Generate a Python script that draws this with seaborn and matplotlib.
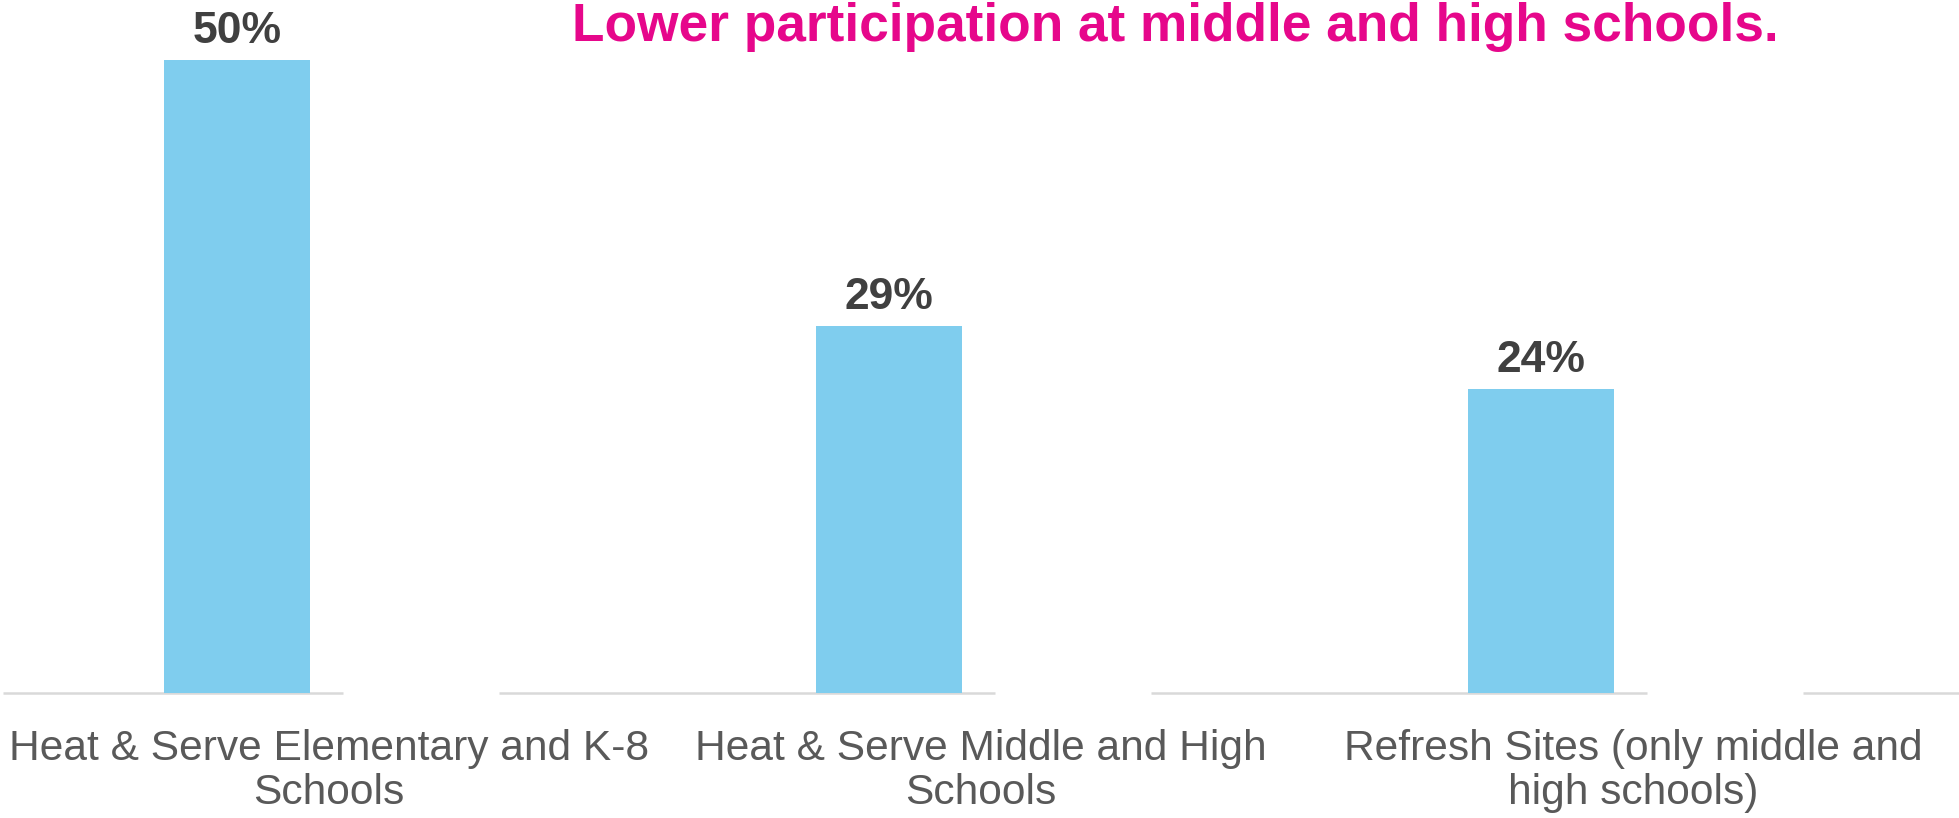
import matplotlib
matplotlib.use("Agg")
import matplotlib.pyplot as plt
import seaborn as sns
import pandas as pd

# Share of students participating, by site type
categories = [
    "Heat & Serve Elementary and K-8\nSchools",
    "Heat & Serve Middle and High\nSchools",
    "Refresh Sites (only middle and\nhigh schools)",
]
participation = [50, 29, 24]
series = ["Participation", "Comparison"]  # second slot is left empty
title = "Lower participation at middle and high schools."

BAR_COLOR = "#7FCDEE"
TITLE_COLOR = "#E6078B"
LABEL_COLOR = "#404040"
TICK_COLOR = "#595959"
AXIS_COLOR = "#D9D9D9"

sns.set_theme(style="white")
plt.rcParams["font.family"] = ["Liberation Sans", "DejaVu Sans"]

df = pd.DataFrame({
    "category": categories,
    "value": participation,
    "series": [series[0]] * len(categories),
})

fig = plt.figure(figsize=(19.59, 8.18), dpi=100)
ax = fig.add_axes([0.0015, 0.1534, 0.9985, 0.8345])

group_width = 0.564
bar_gap = 0.206
sns.barplot(
    data=df, x="category", y="value", hue="series",
    hue_order=series, order=categories,
    palette={series[0]: BAR_COLOR, series[1]: "white"},
    saturation=1,
    width=group_width, gap=bar_gap, dodge=True,
    errorbar=None, legend=False, ax=ax, zorder=3,
    linewidth=0,
)

ax.set_xlim(-0.5, len(categories) - 0.5)
ax.set_ylim(0, 54)

# value labels above the bars
for cont in ax.containers:
    if len(cont.patches):
        ax.bar_label(
            cont, labels=[f"{v:.0f}%" for v in participation],
            padding=6, fontsize=32, fontweight="bold", color=LABEL_COLOR,
            clip_on=False,
        )

# category axis line, interrupted at the empty second slot of each group
slot = group_width / 2
gap_center = slot / 2
gap_half = 0.239 / 2
edges = [-0.5]
for i in range(len(categories)):
    edges += [i + gap_center - gap_half, i + gap_center + gap_half]
edges.append(len(categories) - 0.5)
for x0, x1 in zip(edges[0::2], edges[1::2]):
    ax.hlines(0, x0, x1, color=AXIS_COLOR, lw=1.8, zorder=2, clip_on=False)

for s in ax.spines.values():
    s.set_visible(False)
ax.set_yticks([])
ax.set_xlabel("")
ax.set_ylabel("")
ax.set_xticks(range(len(categories)))
ax.set_xticklabels(categories, fontsize=30.6, color=TICK_COLOR, linespacing=1.15)
ax.tick_params(axis="x", length=0, pad=26)

fig.text(0.5998, 1 - 41 / 818, title, ha="center", va="baseline",
         fontsize=38.3, fontweight="bold", color=TITLE_COLOR)

fig.savefig("out.png", dpi=100, facecolor="white")
